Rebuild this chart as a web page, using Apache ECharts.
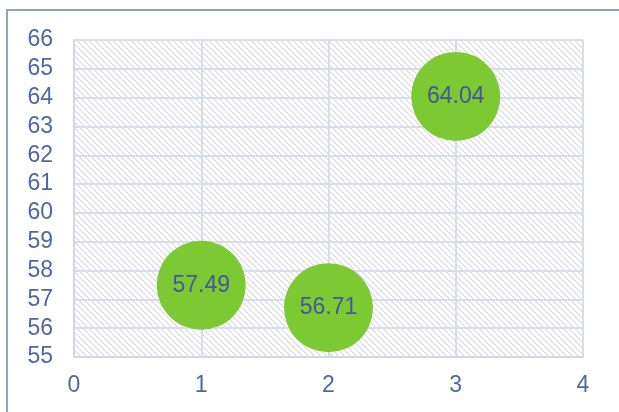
<!DOCTYPE html>
<html>
<head>
<meta charset="utf-8">
<style>
  html, body { margin: 0; padding: 0; background: #ffffff; }
  #chart { width: 619px; height: 412px; }
</style>
<script src="https://cdn.jsdelivr.net/npm/echarts@6/dist/echarts.min.js"></script>
</head>
<body>
<div id="chart"></div>
<script>
// Bubble positions and the values printed inside them
const xValues = [1, 2, 3];
const yValues = [57.49, 56.71, 64.04];
const labelTexts = ['57.49', '56.71', '64.04'];

// Axis ranges
const xMin = 0, xMax = 4, xStep = 1;
const yMin = 55, yMax = 66, yStep = 1;

// Fine diagonal hatch fill for the plot area
function makeHatch() {
  const c = document.createElement('canvas');
  c.width = 6; c.height = 6;
  const g = c.getContext('2d');
  g.fillStyle = '#ffffff';
  g.fillRect(0, 0, 6, 6);
  g.fillStyle = '#dcdce0';
  for (let i = 0; i < 6; i++) g.fillRect(i, i, 1, 1);
  g.fillStyle = '#eaeaee';
  for (let i = 0; i < 6; i++) g.fillRect((i + 1) % 6, i, 1, 1);
  return c;
}

const points = xValues.map((x, i) => [x, yValues[i], labelTexts[i]]);
const font = 'Liberation Sans, Arial, sans-serif';

const chart = echarts.init(document.getElementById('chart'), null, { renderer: 'canvas' });
chart.setOption({
  animation: false,
  backgroundColor: '#ffffff',
  grid: {
    left: 74, top: 40, right: 36, bottom: 55,
    show: true,
    borderWidth: 0,
    backgroundColor: { image: makeHatch(), repeat: 'repeat' }
  },
  graphic: [{
    type: 'rect',
    shape: { x: 7, y: 10, width: 700, height: 500 },
    style: { fill: 'none', stroke: '#8ea3c4', lineWidth: 2 },
    silent: true,
    z: 100
  }],
  xAxis: {
    type: 'value',
    min: xMin, max: xMax, interval: xStep,
    axisLine: { show: true, lineStyle: { color: '#d0d8e8', width: 2 } },
    axisTick: { show: false },
    splitLine: { show: true, lineStyle: { color: '#d6deec', width: 2 } },
    axisLabel: { color: '#4e68a6', fontSize: 23, fontFamily: font, margin: 17 }
  },
  yAxis: {
    type: 'value',
    min: yMin, max: yMax, interval: yStep,
    axisLine: { show: true, lineStyle: { color: '#d0d8e8', width: 2 } },
    axisTick: { show: false },
    splitLine: { show: true, lineStyle: { color: '#d6deec', width: 2 } },
    axisLabel: { color: '#4e68a6', fontSize: 23, fontFamily: font, margin: 21 }
  },
  series: [{
    type: 'scatter',
    data: points,
    symbol: 'circle',
    symbolSize: 89,
    itemStyle: { color: '#7cc934', opacity: 1 },
    label: {
      show: true,
      position: 'inside',
      formatter: p => p.data[2],
      color: '#44589a',
      fontSize: 23,
      fontFamily: font
    }
  }]
});
</script>
</body>
</html>
